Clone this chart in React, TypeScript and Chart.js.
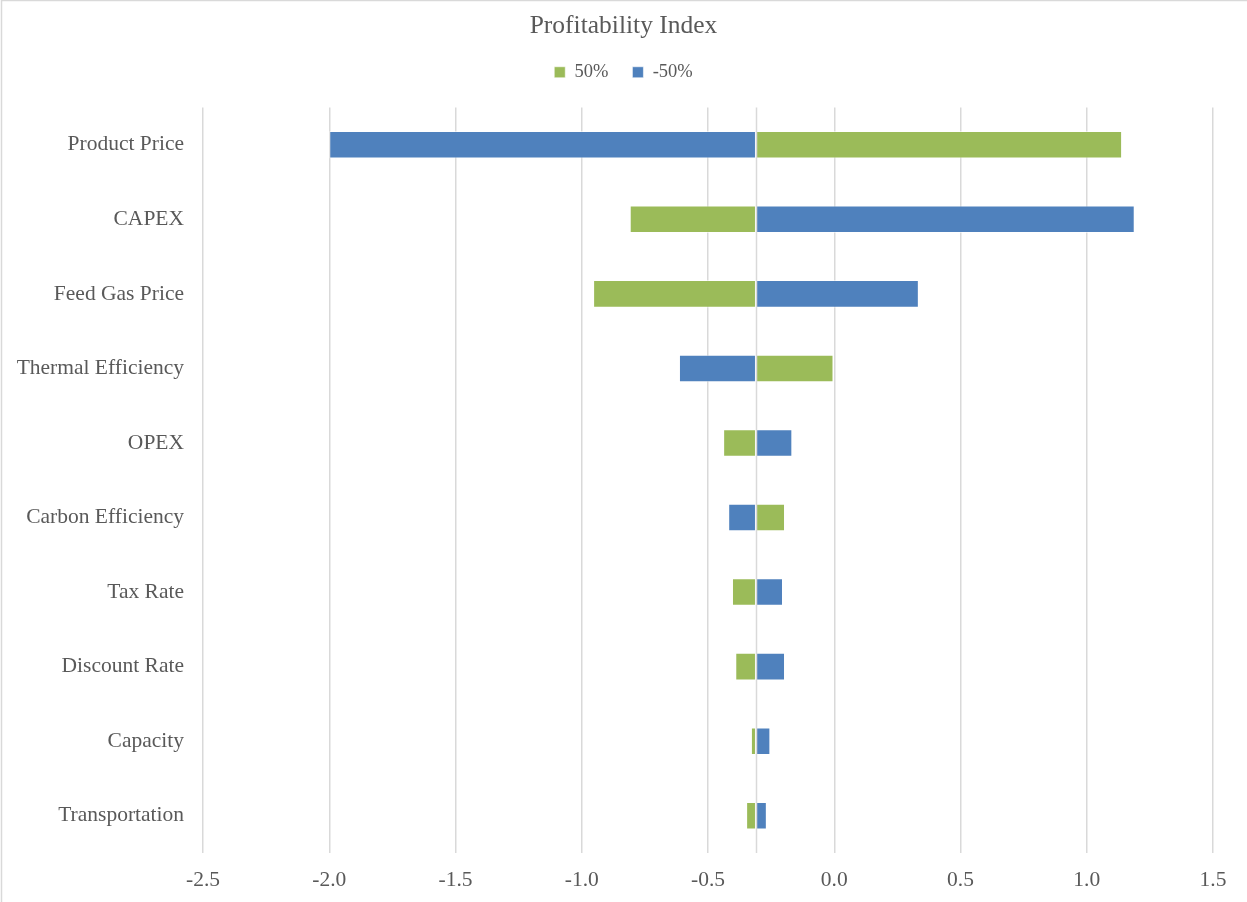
import React, { useEffect, useRef } from "react";
import { Chart, registerables } from "chart.js";

Chart.register(...registerables);

// Tornado chart: profitability index response to +50% / -50% changes of each driver
const categories = [
  "Product Price",
  "CAPEX",
  "Feed Gas Price",
  "Thermal Efficiency",
  "OPEX",
  "Carbon Efficiency",
  "Tax Rate",
  "Discount Rate",
  "Capacity",
  "Transportation",
];
const baseCase = -0.31;
const plus50 = [1.14, -0.81, -0.955, 0.0, -0.44, -0.195, -0.405, -0.392, -0.33, -0.349];
const minus50 = [-2.0, 1.19, 0.335, -0.615, -0.166, -0.42, -0.203, -0.195, -0.253, -0.267];
const xTicks = [-2.5, -2.0, -1.5, -1.0, -0.5, 0.0, 0.5, 1.0, 1.5];

const FONT = "'Liberation Serif', 'Times New Roman', serif";
const TEXT = "#595959";
const GRID = "#d9d9d9";

// vertical line at the base case plus the chart frame edges
const baseLinePlugin = {
  id: "baseLine",
  afterDatasetsDraw(chart: any) {
    const { ctx, chartArea, scales } = chart;
    const x = Math.round(scales.x.getPixelForValue(baseCase)) + 0.5;
    ctx.save();
    ctx.strokeStyle = GRID;
    ctx.lineWidth = 1.5;
    ctx.beginPath();
    ctx.moveTo(x, chartArea.top);
    ctx.lineTo(x, chartArea.bottom);
    ctx.stroke();
    ctx.restore();
  },
  afterDraw(chart: any) {
    const { ctx, width, height } = chart;
    ctx.save();
    ctx.strokeStyle = GRID;
    ctx.lineWidth = 1.5;
    ctx.beginPath();
    ctx.moveTo(1.5, height);
    ctx.lineTo(1.5, 0.5);
    ctx.lineTo(width, 0.5);
    ctx.stroke();
    ctx.restore();
  },
};

// empty axes that only reserve space around the plot area
const spacer = (axis: "x" | "y", position: string, size: number) => ({
  type: "linear" as const,
  axis,
  position,
  min: 0,
  max: 1,
  display: true,
  ticks: { display: false },
  grid: { display: false, drawTicks: false },
  border: { display: false },
  afterFit: (scale: any) => {
    if (axis === "x") scale.height = size;
    else scale.width = size;
  },
});

export default function App() {
  const canvasRef = useRef<HTMLCanvasElement | null>(null);

  useEffect(() => {
    if (!canvasRef.current) return;
    const chart = new Chart(canvasRef.current, {
      type: "bar",
      data: {
        labels: categories,
        datasets: [
          {
            label: "50%",
            data: plus50.map((v) => [baseCase, v]) as any,
            backgroundColor: "#9BBB59",
            borderColor: "rgba(255,255,255,0.55)",
            borderWidth: 1,
            borderSkipped: false,
            grouped: false,
            barPercentage: 1,
            categoryPercentage: 0.37,
            xAxisID: "x",
            yAxisID: "y",
          },
          {
            label: "-50%",
            data: minus50.map((v) => [baseCase, v]) as any,
            backgroundColor: "#4F81BD",
            borderColor: "rgba(255,255,255,0.55)",
            borderWidth: 1,
            borderSkipped: false,
            grouped: false,
            barPercentage: 1,
            categoryPercentage: 0.37,
            xAxisID: "x",
            yAxisID: "y",
          },
        ],
      },
      options: {
        indexAxis: "y",
        responsive: false,
        animation: false,
        layout: { padding: 0 },
        plugins: {
          title: {
            display: true,
            text: "Profitability Index",
            color: TEXT,
            font: { family: FONT, size: 25.5, weight: "normal", lineHeight: 1 },
            padding: { top: 13.5, bottom: 0 },
          },
          legend: {
            display: true,
            position: "top",
            labels: {
              color: TEXT,
              font: { family: FONT, size: 18.5 },
              boxWidth: 11,
              boxHeight: 11,
              padding: 24,
            },
          },
          tooltip: { enabled: false },
        },
        scales: {
          x: {
            type: "linear",
            position: "bottom",
            min: -2.5,
            max: 1.5,
            afterBuildTicks: (scale: any) => {
              scale.ticks = xTicks.map((v) => ({ value: v }));
            },
            afterFit: (scale: any) => {
              scale.height = 49;
            },
            ticks: {
              color: TEXT,
              font: { family: FONT, size: 21.5 },
              padding: 14,
              maxRotation: 0,
              callback: (v: any) => Number(v).toFixed(1),
            },
            grid: { color: GRID, lineWidth: 1.5, drawTicks: false },
            border: { display: false },
          },
          y: {
            type: "category",
            position: "left",
            afterFit: (scale: any) => {
              scale.width = 203;
            },
            ticks: {
              color: TEXT,
              font: { family: FONT, size: 21.5 },
              padding: 19,
            },
            grid: { display: false, drawTicks: false },
            border: { display: false },
          },
          padTop: spacer("x", "top", 16) as any,
          padRight: spacer("y", "right", 34) as any,
        },
      },
      plugins: [baseLinePlugin],
    });
    return () => chart.destroy();
  }, []);

  return (
    <div style={{ position: "fixed", left: 0, top: 0, width: 1247, height: 902, background: "#fff" }}>
      <canvas ref={canvasRef} width={1247} height={902} style={{ display: "block" }} />
    </div>
  );
}
